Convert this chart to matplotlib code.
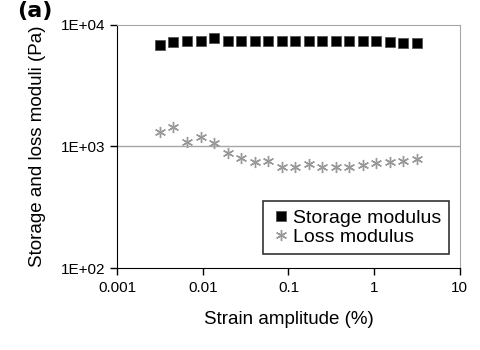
import numpy as np
import matplotlib.pyplot as plt
from matplotlib.ticker import FixedLocator, NullLocator

plt.rcParams['font.family'] = ['Liberation Sans', 'DejaVu Sans']

strain = [0.00316, 0.00455, 0.00655, 0.00942, 0.01355, 0.0195, 0.0280, 0.0403, 0.0580, 0.0834,
          0.120, 0.173, 0.248, 0.357, 0.514, 0.739, 1.06, 1.53, 2.20, 3.16]
storage = [6850, 7250, 7350, 7430, 7820, 7350, 7430, 7430, 7430, 7430,
           7430, 7430, 7430, 7430, 7400, 7350, 7300, 7250, 7150, 7050]
loss = [1324, 1455, 1096, 1191, 1062, 879, 809, 741, 764, 682,
        682, 718, 674, 682, 674, 705, 728, 750, 764, 794]
ytick_vals = [100, 1000, 10000]
ytick_labels = ['1E+02', '1E+03', '1E+04']
xtick_vals = [0.001, 0.01, 0.1, 1, 10]
xtick_labels = ['0.001', '0.01', '0.1', '1', '10']

fig = plt.figure(figsize=(4.8, 3.5), dpi=100)
ax = fig.add_axes([0.244, 0.234, 0.714, 0.695])
ax.set_xscale('log')
ax.set_yscale('log')
ax.set_xlim(0.001, 10)
ax.set_ylim(100, 10000)

ax.axhline(1000, color='#a6a6a6', lw=1, zorder=0)
ax.plot(strain, storage, ls='none', marker='s', ms=7.5, color='black',
        markeredgecolor='#555555', markeredgewidth=0.6, label='Storage modulus')
ax.plot(strain, loss, ls='none', marker=(6, 2, 0), ms=8, color='#999999',
        markeredgewidth=1.0, label='Loss modulus')

ax.xaxis.set_major_locator(FixedLocator(xtick_vals))
ax.set_xticklabels(xtick_labels)
ax.xaxis.set_minor_locator(NullLocator())
ax.yaxis.set_major_locator(FixedLocator(ytick_vals))
ax.set_yticklabels(ytick_labels)
ax.yaxis.set_minor_locator(NullLocator())
ax.tick_params(axis='both', direction='out', length=5, width=1, labelsize=11, colors='black')
ax.tick_params(axis='x', pad=4)

for s in ['top', 'right']:
    ax.spines[s].set_color('#a6a6a6')
for s in ['left', 'bottom']:
    ax.spines[s].set_color('black')

ax.set_xlabel('Strain amplitude (%)', fontsize=13.5, labelpad=12)
ax.set_ylabel('Storage and loss moduli (Pa)', fontsize=13.5, labelpad=11)

leg = ax.legend(loc='lower right', bbox_to_anchor=(0.968, 0.058), fontsize=14, frameon=True,
                fancybox=False, edgecolor='black', handlelength=1.1, handletextpad=0.05,
                borderpad=0.4, borderaxespad=0, labelspacing=0.1)
leg.get_frame().set_linewidth(1.2)

fig.text(0.035, 0.998, '(a)', fontsize=16, fontweight='bold', va='top', ha='left',
         family='DejaVu Sans')

fig.savefig('out.png', dpi=100)
